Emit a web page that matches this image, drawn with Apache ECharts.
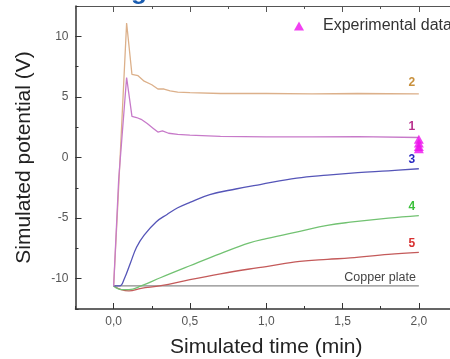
<!DOCTYPE html>
<html>
<head>
<meta charset="utf-8">
<script src="https://cdn.jsdelivr.net/npm/echarts@6/dist/echarts.min.js"></script>
<style>
  html, body { margin: 0; padding: 0; background: #fff; }
  #main { width: 450px; height: 359px; }
</style>
</head>
<body>
<div id="main"></div>
<script>
// simulated curves (time in min, potential in V)
var timeC1 = [0, 0.033, 0.085, 0.12, 0.15, 0.18, 0.22, 0.26, 0.29, 0.32, 0.36, 0.42, 0.5, 0.7, 1.0, 1.3, 1.6, 2.0];
var potC1  = [-10.6, -1.8, 6.6, 3.4, 3.3, 3.15, 2.8, 2.4, 2.1, 2.2, 2.0, 1.9, 1.85, 1.75, 1.7, 1.7, 1.72, 1.65];

var timeC2 = [0, 0.03, 0.085, 0.12, 0.16, 0.2, 0.25, 0.29, 0.33, 0.37, 0.42, 0.5, 0.7, 1.0, 1.3, 1.6, 2.0];
var potC2  = [-10.6, -3.2, 11.1, 6.85, 6.75, 6.3, 6.0, 5.65, 5.65, 5.5, 5.4, 5.35, 5.28, 5.28, 5.25, 5.28, 5.25];

var timeC3 = [0, 0.04, 0.07, 0.11, 0.15, 0.2, 0.28, 0.35, 0.42, 0.5, 0.63, 0.8, 0.96, 1.2, 1.4, 1.6, 1.8, 2.0];
var potC3  = [-10.6, -10.6, -10.0, -8.7, -7.4, -6.4, -5.3, -4.7, -4.15, -3.7, -3.06, -2.6, -2.23, -1.7, -1.45, -1.25, -1.1, -0.93];

var timeC45 = [0, 0.05, 0.1, 0.18, 0.31, 0.5, 0.7, 0.89, 1.0, 1.22, 1.4, 1.55, 1.8, 2.0];
var potC4   = [-10.6, -10.9, -10.9, -10.6, -9.9, -8.93, -7.93, -7.05, -6.7, -6.09, -5.6, -5.34, -5.0, -4.79];
var potC5   = [-10.6, -10.9, -11.0, -10.8, -10.58, -10.08, -9.6, -9.2, -9.0, -8.57, -8.4, -8.29, -8.0, -7.83];

var timeCopper = [0, 2.0];
var potCopper  = [-10.6, -10.6];

var expTime = [2.0, 2.0, 2.0, 2.0];
var expPot  = [1.5, 1.2, 0.9, 0.72];

var xMajor = [0, 0.5, 1, 1.5, 2];
var yMajor = [-10, -5, 0, 5, 10];

function zip(a, b) {
    var out = [];
    for (var i = 0; i < a.length; i++) out.push([a[i], b[i]]);
    return out;
}

function lastPt(t, v) {
    return [t[t.length - 1], v[v.length - 1]];
}

// number label sitting just above the end of a curve
function endTag(text, color, t, v, dy) {
    return {
        symbol: 'circle', symbolSize: 0, silent: true,
        label: {
            show: true, formatter: text, color: color, fontWeight: 'bold',
            fontSize: 12, fontFamily: 'Arial', offset: [-7, dy]
        },
        data: [{ coord: lastPt(t, v) }]
    };
}

var FONT = 'Arial, "Liberation Sans", sans-serif';
var AX = '#333';

function curve(name, color, t, v, tag, tagColor, dy, smooth) {
    return {
        name: name, type: 'line', data: zip(t, v), showSymbol: false, smooth: smooth,
        lineStyle: { color: color, width: 1.3 }, itemStyle: { color: color },
        z: 3, markPoint: endTag(tag, tagColor, t, v, dy)
    };
}

function xAx(pos, major, color, width) {
    return {
        type: 'value', position: pos, min: -0.25, max: 2.25, interval: 0.25,
        axisLine: { show: major, onZero: false, lineStyle: { color: color, width: width } },
        axisTick: major
            ? { show: true, inside: true, length: 6, customValues: xMajor, lineStyle: { color: color } }
            : { show: true, inside: true, length: 3, lineStyle: { color: color } },
        axisLabel: { show: false },
        splitLine: { show: false }
    };
}

var myChart = echarts.init(document.getElementById('main'), null, { renderer: 'canvas' });

var bottomAxis = xAx('bottom', true, AX, 1.5);
bottomAxis.name = 'Simulated time (min)';
bottomAxis.nameLocation = 'middle';
bottomAxis.nameGap = 28;
bottomAxis.nameTextStyle = { fontSize: 21, color: '#222', fontFamily: FONT };
bottomAxis.axisLabel = {
    show: true, customValues: xMajor, margin: 7, fontSize: 12, color: '#555', fontFamily: FONT,
    formatter: function (v) { return v.toFixed(1).replace('.', ','); }
};

var option = {
    backgroundColor: '#fff',
    animation: false,
    grid: { left: 75.5, top: 6, width: 381.5, bottom: 50, outerBoundsMode: 'none', containLabel: false },
    legend: {
        data: ['Experimental data'],
        left: 289, top: 13,
        itemWidth: 10, itemHeight: 9,
        textStyle: { fontSize: 16, color: '#333', fontFamily: FONT, padding: [0, 0, 0, 14] }
    },
    xAxis: [
        bottomAxis,
        xAx('bottom', false, AX, 1.5),
        xAx('top', true, '#555', 1.2),
        xAx('top', false, '#555', 1.2)
    ],
    yAxis: [
        {
            type: 'value', position: 'left', min: -12.5, max: 12.5, interval: 2.5,
            name: 'Simulated potential (V)', nameLocation: 'middle', nameGap: 41,
            nameTextStyle: { fontSize: 21, color: '#222', fontFamily: FONT },
            axisLine: { show: true, onZero: false, lineStyle: { color: AX, width: 1.5 } },
            axisTick: { show: true, inside: true, length: 6, customValues: yMajor, lineStyle: { color: AX } },
            axisLabel: { customValues: yMajor, margin: 7, fontSize: 12, color: '#555', fontFamily: FONT },
            splitLine: { show: false }
        },
        {
            type: 'value', position: 'left', min: -12.5, max: 12.5, interval: 2.5,
            axisLine: { show: false, onZero: false }, axisLabel: { show: false }, splitLine: { show: false },
            axisTick: { show: true, inside: true, length: 3, lineStyle: { color: AX } }
        }
    ],
    graphic: [
        { type: 'text', left: 131, top: -21, style: { text: 'g', font: 'bold 26px Arial', fill: '#1a5cb0' } }
    ],
    series: [
        {
            name: 'Copper plate', type: 'line', data: zip(timeCopper, potCopper), showSymbol: false,
            lineStyle: { color: '#8a8a8a', width: 1.3 }, z: 2,
            markPoint: {
                symbol: 'circle', symbolSize: 0, silent: true,
                label: {
                    show: true, formatter: 'Copper plate', color: '#444', fontSize: 12.5,
                    fontFamily: FONT, position: 'left', offset: [2, -8]
                },
                data: [{ coord: lastPt(timeCopper, potCopper) }]
            }
        },
        curve('5', '#c45a5a', timeC45, potC5, '5', '#d83030', -9, 0.4),
        curve('4', '#72c272', timeC45, potC4, '4', '#3cc03c', -9, 0.4),
        curve('3', '#5555b8', timeC3, potC3, '3', '#2a2ac0', -9, 0.4),
        curve('2', '#dcb08a', timeC2, potC2, '2', '#c8903c', -11, false),
        curve('1', '#c77ac9', timeC1, potC1, '1', '#b8308c', -11, false),
        {
            name: 'Experimental data', type: 'scatter', data: zip(expTime, expPot),
            symbol: 'triangle', symbolSize: [10, 9],
            itemStyle: { color: '#ee11ee' }, z: 5
        }
    ]
};
myChart.setOption(option);
</script>
</body>
</html>
